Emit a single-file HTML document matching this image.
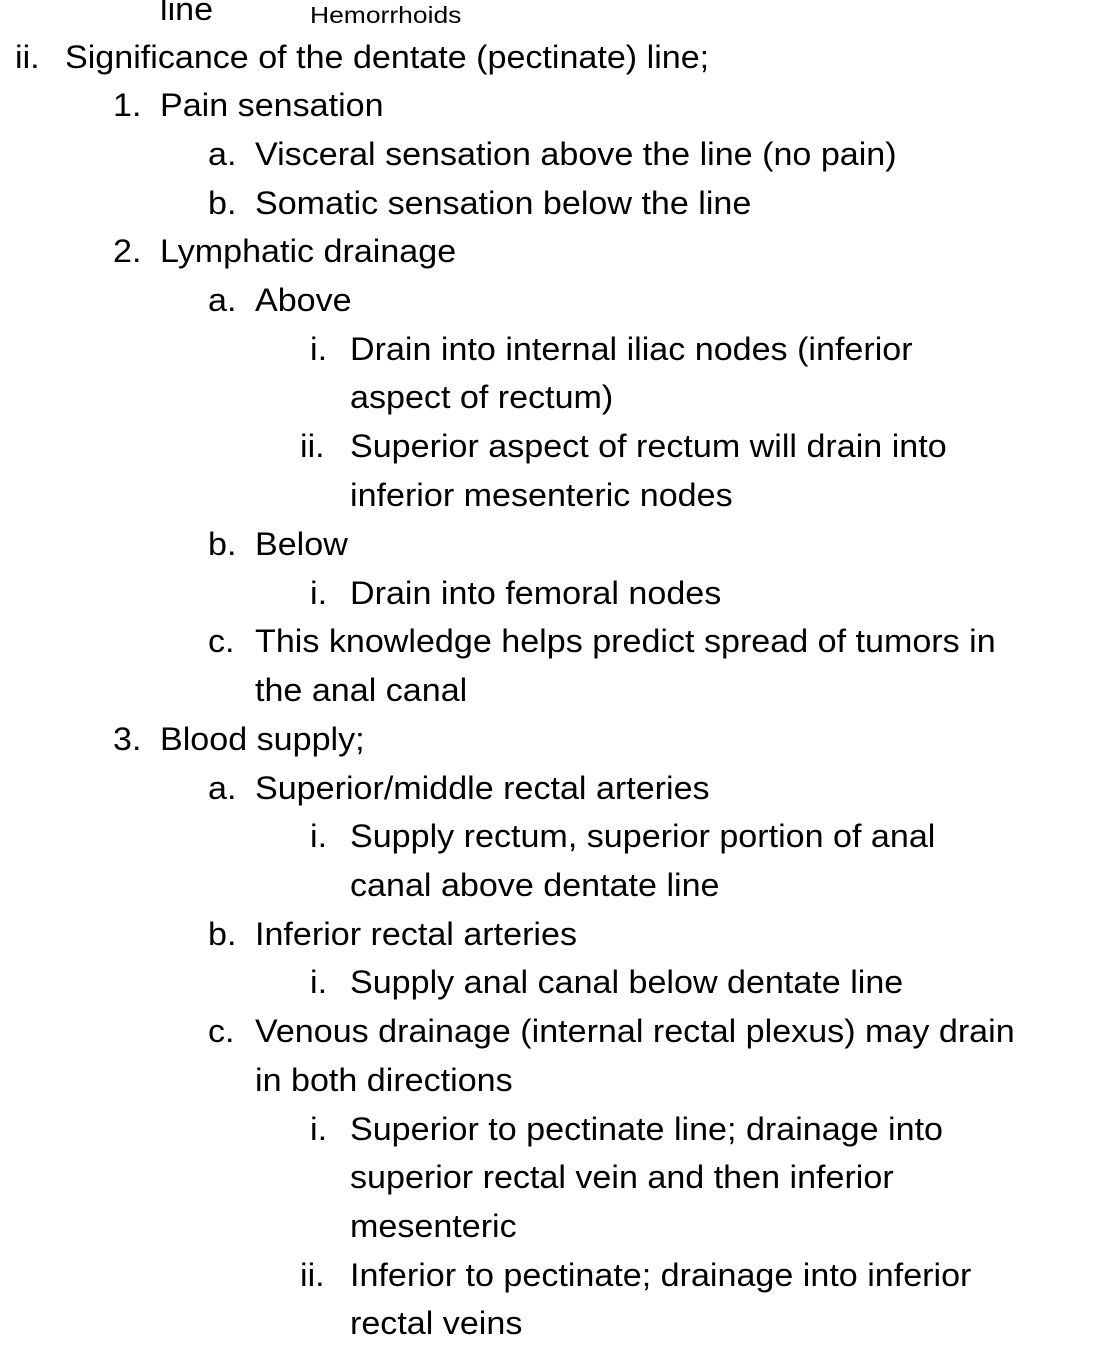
<!DOCTYPE html>
<html><head><meta charset="utf-8"><style>
html,body{margin:0;padding:0;background:#fff;}
body{width:1117px;height:1352px;position:relative;overflow:hidden;font-family:"Liberation Sans",sans-serif;color:#000;}
.l{position:absolute;font-size:32px;line-height:50px;white-space:nowrap;transform:scaleX(1.065);transform-origin:left center;}
</style></head><body>
<div class="l" style="left:160px;top:-16px;">line</div>
<div class="l" style="left:310px;top:-10px;font-size:23px;transform:scaleX(1.15);">Hemorrhoids</div>

<div class="l" style="left:15px;top:32px;">ii.</div><div class="l" style="left:65px;top:32px;">Significance of the dentate (pectinate) line;</div>
<div class="l" style="left:113px;top:80px;">1.</div><div class="l" style="left:160px;top:80px;">Pain sensation</div>
<div class="l" style="left:208px;top:129px;">a.</div><div class="l" style="left:255px;top:129px;">Visceral sensation above the line (no pain)</div>
<div class="l" style="left:208px;top:178px;">b.</div><div class="l" style="left:255px;top:178px;">Somatic sensation below the line</div>
<div class="l" style="left:113px;top:226px;">2.</div><div class="l" style="left:160px;top:226px;">Lymphatic drainage</div>
<div class="l" style="left:208px;top:275px;">a.</div><div class="l" style="left:255px;top:275px;">Above</div>
<div class="l" style="left:310px;top:324px;">i.</div><div class="l" style="left:350px;top:324px;">Drain into internal iliac nodes (inferior</div>
<div class="l" style="left:350px;top:372px;">aspect of rectum)</div>
<div class="l" style="left:300px;top:421px;">ii.</div><div class="l" style="left:350px;top:421px;">Superior aspect of rectum will drain into</div>
<div class="l" style="left:350px;top:470px;">inferior mesenteric nodes</div>
<div class="l" style="left:208px;top:519px;">b.</div><div class="l" style="left:255px;top:519px;">Below</div>
<div class="l" style="left:310px;top:568px;">i.</div><div class="l" style="left:350px;top:568px;">Drain into femoral nodes</div>
<div class="l" style="left:208px;top:616px;">c.</div><div class="l" style="left:255px;top:616px;">This knowledge helps predict spread of tumors in</div>
<div class="l" style="left:255px;top:665px;">the anal canal</div>
<div class="l" style="left:113px;top:714px;">3.</div><div class="l" style="left:160px;top:714px;">Blood supply;</div>
<div class="l" style="left:208px;top:763px;">a.</div><div class="l" style="left:255px;top:763px;">Superior/middle rectal arteries</div>
<div class="l" style="left:310px;top:811px;">i.</div><div class="l" style="left:350px;top:811px;">Supply rectum, superior portion of anal</div>
<div class="l" style="left:350px;top:860px;">canal above dentate line</div>
<div class="l" style="left:208px;top:909px;">b.</div><div class="l" style="left:255px;top:909px;">Inferior rectal arteries</div>
<div class="l" style="left:310px;top:957px;">i.</div><div class="l" style="left:350px;top:957px;">Supply anal canal below dentate line</div>
<div class="l" style="left:208px;top:1006px;">c.</div><div class="l" style="left:255px;top:1006px;">Venous drainage (internal rectal plexus) may drain</div>
<div class="l" style="left:255px;top:1055px;">in both directions</div>
<div class="l" style="left:310px;top:1104px;">i.</div><div class="l" style="left:350px;top:1104px;">Superior to pectinate line; drainage into</div>
<div class="l" style="left:350px;top:1152px;">superior rectal vein and then inferior</div>
<div class="l" style="left:350px;top:1201px;">mesenteric</div>
<div class="l" style="left:300px;top:1250px;">ii.</div><div class="l" style="left:350px;top:1250px;">Inferior to pectinate; drainage into inferior</div>
<div class="l" style="left:350px;top:1298px;">rectal veins</div>
</body></html>
